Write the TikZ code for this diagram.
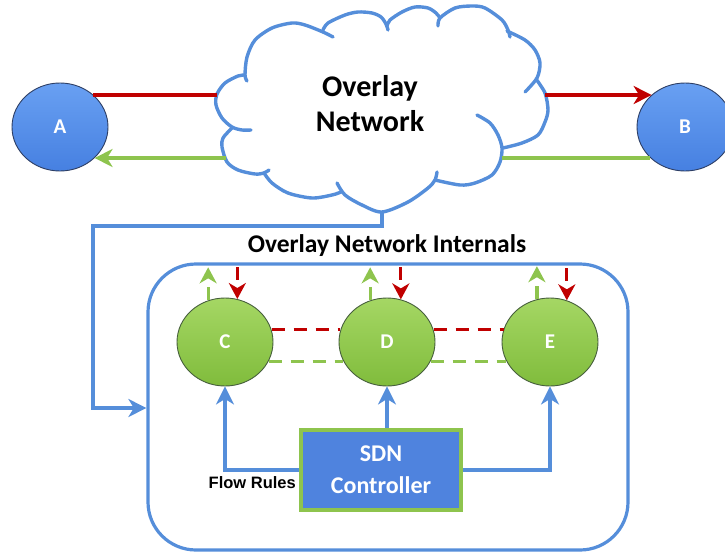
\documentclass[tikz,border=0pt]{standalone}
\usepackage{fontspec}
\setmainfont{Carlito}
\newfontfamily\labelfont{Liberation Sans}
\usetikzlibrary{arrows.meta,shapes.geometric}

\definecolor{lineblue}{RGB}{85,142,218}
\definecolor{boxblue}{RGB}{79,131,222}
\definecolor{linered}{RGB}{192,0,0}
\definecolor{linegreen}{RGB}{142,196,78}
\definecolor{rimnavy}{RGB}{45,62,100}
\definecolor{hostlight}{RGB}{105,160,242}
\definecolor{hostdark}{RGB}{70,128,225}
\definecolor{switchlight}{RGB}{165,215,100}
\definecolor{switchdark}{RGB}{128,188,60}
\definecolor{rimgreen}{RGB}{70,95,60}

\begin{document}
\begin{tikzpicture}[x=1pt,y=-1pt,
  host/.style={ellipse, draw=rimnavy, line width=0.9pt, minimum width=96pt,
    minimum height=88pt, inner sep=0pt, top color=hostlight, bottom color=hostdark,
    text=white, font=\bfseries\fontsize{21}{21}\selectfont},
  switchnode/.style={ellipse, draw=rimgreen, line width=0.9pt, minimum width=96pt,
    minimum height=88pt, inner sep=0pt, top color=switchlight, bottom color=switchdark,
    text=white, font=\bfseries\fontsize{21}{21}\selectfont},
  cloudline/.style={draw=lineblue, line width=3.4pt, line cap=round, line join=round},
  redline/.style={draw=linered, line width=3.2pt},
  greenline/.style={draw=linegreen, line width=3.2pt},
  blueline/.style={draw=lineblue, line width=3.2pt},
  dashes/.style={dash pattern=on 13pt off 9pt},
  bigtip/.style={-{Stealth[length=18pt,width=18pt,inset=5.5pt]}},
  smalltip/.style={-{Stealth[length=16pt,width=17pt,inset=5pt]}},
]
\clip (0,0) rectangle (725,552);

% ---------- overlay cloud, one puff at a time ----------
\draw[cloudline] plot[smooth] coordinates {(251,130) (242,130) (232,127) (222,118) (216,105) (217,94) (225,83) (238,76) (245,75)};
\draw[cloudline] plot[smooth] coordinates {(247,81) (245,75) (247,57) (255,40) (272,28) (292,23) (305,25) (323,32) (333,37)};
\draw[cloudline] plot[smooth] coordinates {(323,30) (328,23) (345,15) (358,12) (372,13) (381,17) (386,24) (388,30)};
\draw[cloudline] plot[smooth] coordinates {(387,26) (390,20) (402,12) (415,7) (428,8) (436,13) (440,18)};
\draw[cloudline] plot[smooth] coordinates {(438,26) (440,18) (455,8) (472,6) (485,8) (502,20) (508,30) (510,37)};
\draw[cloudline] plot[smooth] coordinates {(507,31) (525,40) (535,50) (540,63) (537,78) (525,92)};
\draw[cloudline] plot[smooth] coordinates {(536,79) (545,93) (548,110) (545,122) (538,135) (522,143) (503,148)};
\draw[cloudline] plot[smooth] coordinates {(477,115) (490,123) (498,135) (502,148) (500,162) (492,175) (475,183) (460,185) (435,180)};
\draw[cloudline] plot[smooth] coordinates {(437,172) (435,180) (428,188) (408,202) (382,212) (362,205) (345,195) (337,183)};
\draw[cloudline] plot[smooth] coordinates {(341,192) (332,195) (312,198) (288,193) (272,183) (264,173)};
\draw[cloudline] plot[smooth] coordinates {(232,128) (223,138) (222,147) (227,162) (238,170) (255,174) (264,173) (269,170)};

\node[align=center, font=\bfseries\fontsize{30}{35}\selectfont] (cloudtext) at (370,104) {Overlay\\Network};

% points where the links meet the cloud outline
\coordinate (cloudL1) at (217,95);
\coordinate (cloudL2) at (226,158);
\coordinate (cloudR1) at (545,95);
\coordinate (cloudR2) at (502,158);
\coordinate (cloudbot) at (382,212);
\coordinate (turnA) at (93,226);
\coordinate (turnB) at (93,408);

% ---------- end hosts ----------
\node[host] (A) at (60,127) {A};
\node[host] (B) at (685,127) {B};

\draw[redline] (A.44 |- cloudL1) -- (cloudL1);
\draw[redline, bigtip] (cloudR1) -- (B.136 |- cloudR1);
\draw[greenline, bigtip] (cloudL2) -- (A.-42 |- cloudL2);
\draw[greenline] (cloudR2) -- (B.-138 |- cloudR2);

% ---------- internals ----------
\node[font=\bfseries\fontsize{25.5}{25.5}\selectfont, anchor=base] (title) at (387,252) {Overlay Network Internals};

\node[draw=lineblue, line width=3.2pt, rounded corners=48pt, minimum width=480pt,
  minimum height=286pt, inner sep=0pt] (inner) at (388,407) {};

\draw[blueline, bigtip] (cloudbot) |- (turnA) |- (inner.west |- turnB);

\node[switchnode] (C) at (225,342) {C};
\node[switchnode] (D) at (387,342) {D};
\node[switchnode] (E) at (550,342) {E};

% data paths between the switches
\draw[redline, dashes] (C.15) -- (D.165);
\draw[redline, dashes] (D.15) -- (E.165);
\draw[greenline, dashes] (C.-24) -- (D.-156);
\draw[greenline, dashes] (D.-24) -- (E.-156);

% traffic leaving and entering each switch
\draw[greenline, dashes, smalltip] (C.112) -- ++(0,-33);
\draw[redline, dashes, smalltip] ([yshift=32pt]C.74) -- (C.74);
\draw[greenline, dashes, smalltip] (D.112) -- ++(0,-33);
\draw[redline, dashes, smalltip] ([yshift=32pt]D.72) -- (D.72);
\draw[greenline, dashes, smalltip] (E.107) -- ++(0,-33);
\draw[redline, dashes, smalltip] ([yshift=32pt]E.68) -- (E.68);

% controller
\node[draw=linegreen, line width=4pt, fill=boxblue, minimum width=160pt, minimum height=80pt,
  align=center, text=white, inner sep=0pt,
  font=\bfseries\fontsize{24}{32}\selectfont] (SDN) at (381,470) {SDN\\Controller};

\draw[blueline, bigtip] (SDN.west) -| (C.south);
\draw[blueline, bigtip] (D |- SDN.north) -- (D.south);
\draw[blueline, bigtip] (SDN.east) -| (E.south);

\node[anchor=base east, inner sep=0pt, font=\labelfont\bfseries\fontsize{16.5}{16.5}\selectfont] (flow) at (296,488) {Flow Rules};
\end{tikzpicture}
\end{document}
